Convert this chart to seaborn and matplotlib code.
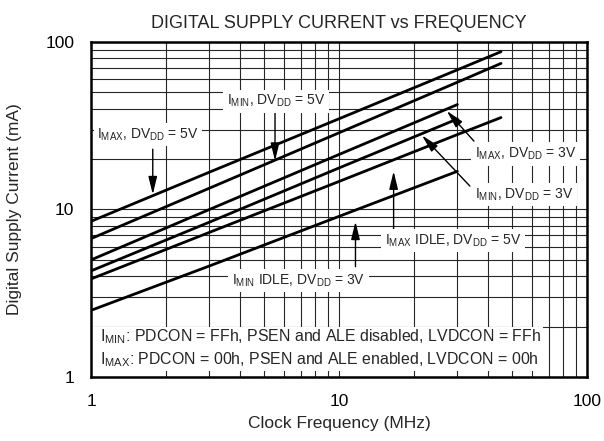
import matplotlib
matplotlib.use('Agg')
import matplotlib.pyplot as plt
from matplotlib.ticker import LogLocator, FuncFormatter, NullFormatter
from matplotlib.patches import Rectangle
import seaborn as sns

# clock frequency (MHz) - 5V curves run a bit past 40 MHz, 3V ones stop at 30
freq_5v = [1, 3, 10, 30, 45]
freq_3v = [1, 3, 10, 30]

# digital supply current (mA)
imax_5v = [8.5, 16.7, 34.8, 68.2, 87.5]
imin_5v = [6.7, 13.4, 28.7, 57.5, 74.5]
imax_3v = [5.0, 10.0, 21.3, 42.3]
imin_3v = [4.3, 8.4, 17.7, 34.7]
imax_idle_5v = [3.85, 7.3, 14.7, 28.0, 35.4]
imin_idle_3v = [2.5, 4.6, 9.1, 16.9]

tick_vals = [1, 10, 100]

sns.set_theme(style='white')
plt.rcParams['font.family'] = ['Liberation Sans', 'DejaVu Sans']
plt.rcParams['mathtext.fontset'] = 'custom'
plt.rcParams['mathtext.rm'] = 'Liberation Sans'
plt.rcParams['mathtext.it'] = 'Liberation Sans:italic'
plt.rcParams['mathtext.bf'] = 'Liberation Sans:bold'

fig, ax = plt.subplots(figsize=(6.04, 4.41), dpi=100)
fig.subplots_adjust(left=0.1507, right=0.9719, top=0.9048, bottom=0.1451)

curves = [
    (freq_5v, imax_5v),
    (freq_5v, imin_5v),
    (freq_3v, imax_3v),
    (freq_3v, imin_3v),
    (freq_5v, imax_idle_5v),
    (freq_3v, imin_idle_3v),
]
for f, cur in curves:
    sns.lineplot(x=f, y=cur, color='black', linewidth=2, ax=ax, zorder=3)

ax.set_xscale('log')
ax.set_yscale('log')
ax.set_xlim(1, 100)
ax.set_ylim(1, 100)
ax.set_xticks(tick_vals)
ax.set_yticks(tick_vals)
fmt = FuncFormatter(lambda v, _: '%g' % v)
ax.xaxis.set_major_formatter(fmt)
ax.yaxis.set_major_formatter(fmt)
for axis in (ax.xaxis, ax.yaxis):
    axis.set_minor_locator(LogLocator(base=10, subs=range(2, 10)))
    axis.set_minor_formatter(NullFormatter())

ax.set_axisbelow(True)
ax.grid(True, which='both', color='0.15', linewidth=0.8)
ax.tick_params(which='both', length=0, labelsize=12.5, colors='black')
ax.tick_params(axis='x', pad=12.5)
ax.tick_params(axis='y', pad=12)
for sp in ax.spines.values():
    sp.set_color('black')
    sp.set_linewidth(1.8)

ax.set_title('DIGITAL SUPPLY CURRENT vs FREQUENCY', fontsize=13, pad=10)
ax.set_xlabel('Clock Frequency (MHz)', fontsize=12.5, labelpad=5)
ax.set_ylabel('Digital Supply Current (mA)', fontsize=12.5)
ax.yaxis.set_label_coords(-0.14, 0.5)

box = dict(facecolor='white', edgecolor='none', pad=2.5)
arrow = dict(arrowstyle='-|>,head_length=0.9,head_width=0.22', color='black',
             lw=1, shrinkA=0, shrinkB=0)

labels = [
    (r'I$_{\rm MAX}$, DV$_{\rm DD}$ = 5V', (1.06, 28.1), (1.774, 22.9), (1.774, 12.3)),
    (r'I$_{\rm MIN}$, DV$_{\rm DD}$ = 5V', (3.53, 44.3), (5.52, 38.1), (5.52, 19.5)),
    (r'I$_{\rm MAX}$, DV$_{\rm DD}$ = 3V', (35.3, 21.4), (35.0, 25.6), (27.2, 38.8)),
    (r'I$_{\rm MIN}$, DV$_{\rm DD}$ = 3V', (35.3, 12.3), (33.7, 13.8), (21.6, 27.7)),
    (r'I$_{\rm MAX}$ IDLE, DV$_{\rm DD}$ = 5V', (15.3, 6.52), (16.6, 7.39), (16.6, 16.9)),
    (r'I$_{\rm MIN}$ IDLE, DV$_{\rm DD}$ = 3V', (3.70, 3.76), (11.65, 4.56), (11.65, 8.47)),
]
for txt, pos, start, tip in labels:
    ax.annotate('', xy=tip, xytext=start, arrowprops=arrow, zorder=4)
    ax.text(pos[0], pos[1], txt, fontsize=10, ha='left', va='center',
            bbox=box, zorder=5)

# white panel behind the two condition notes
ax.add_patch(Rectangle((0, 0.018), 0.911, 0.131, transform=ax.transAxes,
                       facecolor='white', edgecolor='none', zorder=1))
ax.text(1.087, 1.736, r'I$_{\rm MIN}$: PDCON = FFh, PSEN and ALE disabled, LVDCON = FFh',
        fontsize=11.4, ha='left', va='center', zorder=5)
ax.text(1.087, 1.264, r'I$_{\rm MAX}$: PDCON = 00h, PSEN and ALE enabled, LVDCON = 00h',
        fontsize=11.4, ha='left', va='center', zorder=5)

fig.savefig('out.png', dpi=100)
